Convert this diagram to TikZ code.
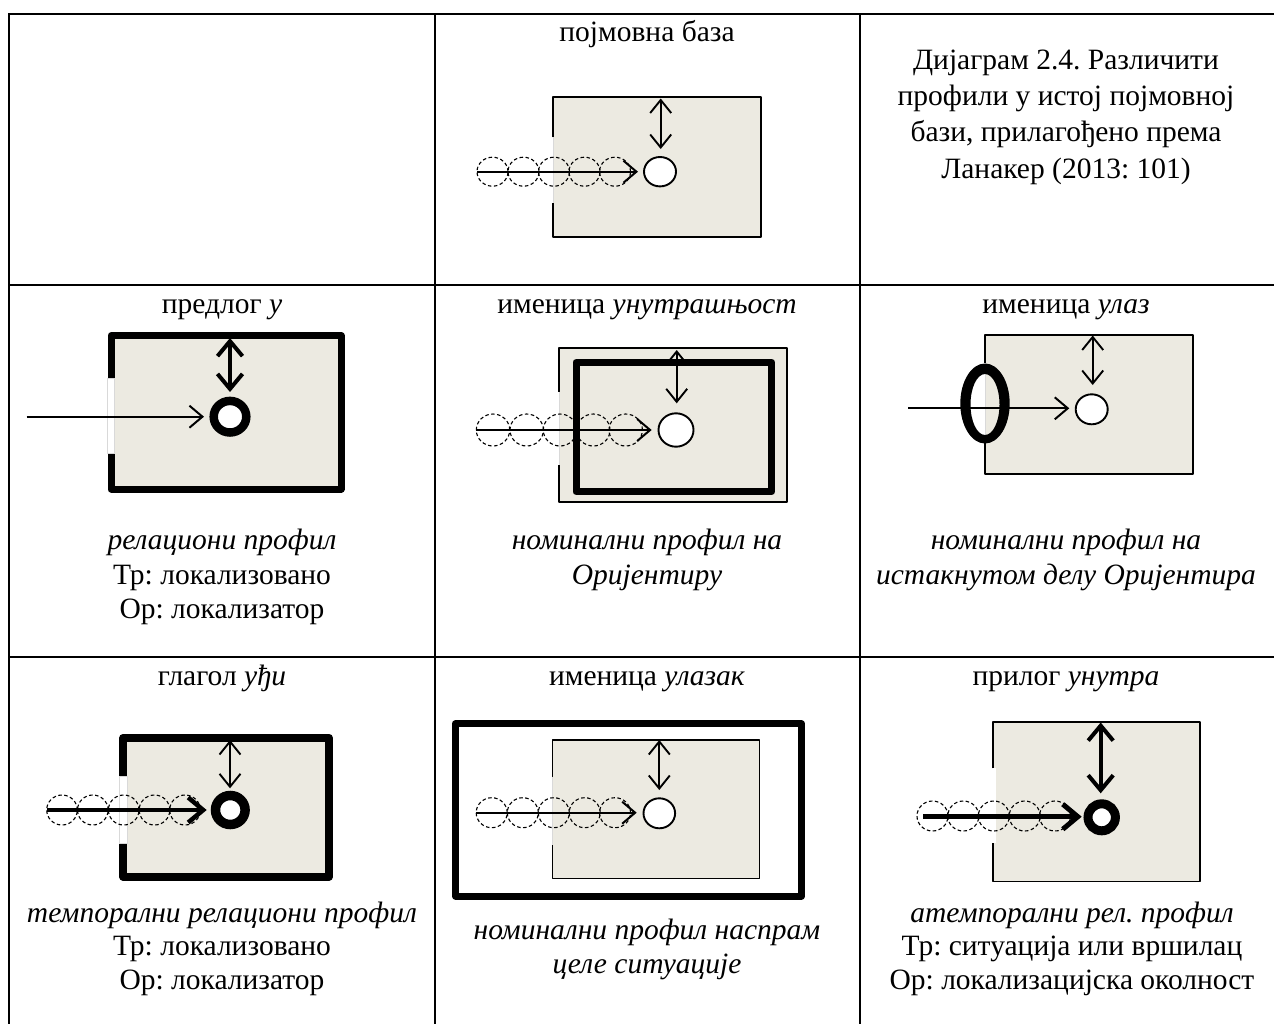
\documentclass[tikz,border=0pt]{standalone}
\usepackage{fontspec}
\setmainfont{Liberation Serif}
\usetikzlibrary{arrows.meta}
\definecolor{base}{RGB}{236,234,225}
\frenchspacing
\tikzset{
  tbl/.style={line width=2pt},
  ground/.style={fill=base},
  edgethin/.style={line width=1.9pt, line join=round},
  edgethick/.style={line width=7pt, line join=round},
  gapline/.style={draw=gray!30, line width=0.7pt},
  gapstrip/.style={fill=white, draw=gray!30, line width=0.6pt},
  pathdash/.style={dash pattern=on 3.5pt off 2.5pt, line width=1.1pt},
  mover/.style={line width=2pt, -{Straight Barb[length=13pt,width=22pt]}},
  moverbold/.style={line width=4.5pt, -{Straight Barb[length=15pt,width=25pt]}},
  reach/.style={line width=1.9pt, {Straight Barb[length=13pt,width=21pt]}-{Straight Barb[length=13pt,width=21pt]}},
  reachbold/.style={line width=4pt, {Straight Barb[length=15pt,width=25pt]}-{Straight Barb[length=15pt,width=25pt]}},
  tr/.style={draw, fill=white, line width=1.9pt},
  trbold/.style={draw, fill=white, line width=8.5pt},
  lbl/.style={font=\fontsize{29.5}{36}\selectfont\frenchspacing, anchor=base, inner sep=0pt},
}
\begin{document}
\begin{tikzpicture}[x=1pt,y=-1pt]
\useasboundingbox (0,0) rectangle (1274,1023);
\clip (0,0) rectangle (1274,1023);

% ---------- table rules ----------
\draw[tbl] (9,14) -- (1290,14);
\draw[tbl] (9,284.5) -- (1290,284.5);
\draw[tbl] (9,656.5) -- (1290,656.5);
\draw[tbl] (9,13) -- (9,1040);
\draw[tbl] (434.5,13) -- (434.5,1040);
\draw[tbl] (860,13) -- (860,1040);

% ---------- conceptual base ----------
\fill[ground] (553,97) rectangle (761,237);
\draw[edgethin] (553,137.3) -- (553,97) -- (761,97) -- (761,237) -- (553,237) -- (553,203.3);
\draw[gapline] (553,137.3) -- (553,203.3);
\foreach \cx in {492.5,523.5,554,584.5,615}
  \draw[pathdash] (\cx,171.7) ellipse [x radius=15.5pt, y radius=14.5pt];
\coordinate (a0) at (477,171.7);
\coordinate (a1) at (638,171.7);
\draw[mover] (a0) -- (a1);
\coordinate (b0) at (660.7,98.5);
\coordinate (b1) at (660.7,149);
\draw[reach] (b0) -- (b1);
\draw[tr] (660,171.7) ellipse [x radius=16pt, y radius=14.7pt];

% ---------- preposition ----------
\fill[ground] (111,335.5) rectangle (341,489);
\draw[edgethick] (111,378.3) -- (111,335.5) -- (341,335.5) -- (341,489) -- (111,489) -- (111,453.3);
\draw[gapstrip] (107.5,378.3) rectangle (114.5,453.3);
\coordinate (c0) at (26.7,416.7);
\coordinate (c1) at (204,416.7);
\draw[mover] (c0) -- (c1);
\coordinate (d0) at (230,338);
\coordinate (d1) at (230,392);
\draw[reachbold] (d0) -- (d1);
\draw[trbold] (230,416.7) ellipse [x radius=16.3pt, y radius=15.8pt];

% ---------- noun: interior ----------
\fill[ground] (559.3,348.3) rectangle (786.7,501.7);
\draw[edgethin] (559.3,391.7) -- (559.3,348.3) -- (786.7,348.3) -- (786.7,501.7) -- (559.3,501.7) -- (559.3,465);
\draw[gapline] (559.3,391.7) -- (559.3,465);
\draw[edgethick] (576,362.3) rectangle (771.7,491.7);
\foreach \cx in {493,526.7,560,593.3,625.7}
  \draw[pathdash] (\cx,430) ellipse [x radius=16.7pt, y radius=16pt];
\coordinate (e0) at (476,430);
\coordinate (e1) at (651.7,430);
\draw[mover] (e0) -- (e1);
\coordinate (f0) at (676.7,350);
\coordinate (f1) at (676.7,403.3);
\draw[reach] (f0) -- (f1);
\draw[tr] (676,430) ellipse [x radius=17.5pt, y radius=16.7pt];

% ---------- noun: entrance ----------
\fill[ground] (985,335) rectangle (1192.7,474);
\draw[edgethin] (985,363) -- (985,335) -- (1192.7,335) -- (1192.7,474) -- (985,474) -- (985,443);
\draw[gapline] (985,363) -- (985,443);
\coordinate (g0) at (908.3,408.3);
\coordinate (g1) at (1069.3,408.3);
\draw[mover] (g0) -- (g1);
\fill[even odd rule] (985,403.5) ellipse [x radius=24.7pt, y radius=40pt]
                     (985,404.5) ellipse [x radius=14.5pt, y radius=30.5pt];
\coordinate (h0) at (1092.7,335.5);
\coordinate (h1) at (1092.7,385);
\draw[reach] (h0) -- (h1);
\draw[tr] (1091.7,409.3) ellipse [x radius=16pt, y radius=15pt];

% ---------- verb ----------
\fill[ground] (123.3,737.8) rectangle (329,876.7);
\draw[edgethick, line width=8pt] (123.3,776) -- (123.3,737.8) -- (329,737.8) -- (329,876.7) -- (123.3,876.7) -- (123.3,843.3);
\draw[gapstrip] (119.3,776) rectangle (127.3,843.3);
\foreach \cx in {62,92.8,123.7,154.5,185}
  \draw[pathdash] (\cx,810) ellipse [x radius=15.3pt, y radius=15pt];
\coordinate (i0) at (46.7,810);
\coordinate (i1) at (206.7,810);
\draw[moverbold] (i0) -- (i1);
\coordinate (j0) at (230,740);
\coordinate (j1) at (230,788.3);
\draw[reach] (j0) -- (j1);
\draw[trbold, line width=9.5pt] (230.3,810) ellipse [x radius=14.8pt, y radius=14.5pt];

% ---------- noun: entering ----------
\draw[edgethick] (455.5,723.7) rectangle (801.5,896);
\fill[ground] (552.5,740) rectangle (759.5,878.5);
\draw[edgethin] (552.5,776.7) -- (552.5,740) -- (759.5,740) -- (759.5,878.5) -- (552.5,878.5) -- (552.5,845);
\draw[gapline] (552.5,776.7) -- (552.5,845);
\foreach \cx in {491.7,522.8,553.8,584.7,615}
  \draw[pathdash] (\cx,812.7) ellipse [x radius=15.5pt, y radius=15pt];
\coordinate (k0) at (476,812.7);
\coordinate (k1) at (636.7,812.7);
\draw[mover] (k0) -- (k1);
\coordinate (l0) at (659.3,740);
\coordinate (l1) at (659.3,790);
\draw[reach] (l0) -- (l1);
\draw[tr] (659.3,813.3) ellipse [x radius=15.8pt, y radius=15pt];

% ---------- adverb ----------
\fill[ground] (996,722.3) rectangle (1200,881.5);
\fill[ground] (993,722.3) rectangle (996,768.3);
\fill[ground] (993,843.3) rectangle (996,881.5);
\draw[edgethin] (993,768.3) -- (993,722.3) -- (1200,722.3) -- (1200,881.5) -- (993,881.5) -- (993,843.3);
\foreach \cx in {932.5,963.3,993.8,1024.7,1055}
  \draw[pathdash] (\cx,816) ellipse [x radius=15.5pt, y radius=15pt];
\coordinate (m0) at (923.3,816.7);
\coordinate (m1) at (1081.7,816.7);
\draw[moverbold, line width=5pt] (m0) -- (m1);
\coordinate (n0) at (1100.7,722.5);
\coordinate (n1) at (1100.7,793.3);
\draw[reachbold] (n0) -- (n1);
\draw[trbold, line width=9pt] (1101.7,817.3) ellipse [x radius=13.7pt, y radius=13.5pt];

% ---------- texts ----------
\node[lbl] (t0) at (647,41) {појмовна база};
\node[lbl] (t1) at (1066,69) {Дијаграм 2.4. Различити};
\node[lbl] (t2) at (1066,105.3) {профили у истој појмовној};
\node[lbl] (t3) at (1066,141.6) {бази, прилагођено према};
\node[lbl] (t4) at (1066,178) {Ланакер (2013: 101)};

\node[lbl] (r1) at (222,313) {предлог \textit{у}};
\node[lbl] (r2) at (647,313) {именица \textit{унутрашњост}};
\node[lbl] (r3) at (1066,313) {именица \textit{улаз}};

\node[lbl] (p1) at (222,549) {\textit{релациони профил}};
\node[lbl] (p2) at (222,584) {Тр: локализовано};
\node[lbl] (p3) at (222,618) {Ор: локализатор};
\node[lbl] (q1) at (647,549) {\textit{номинални профил на}};
\node[lbl] (q2) at (647,584) {\textit{Оријентиру}};
\node[lbl] (s1) at (1066,549) {\textit{номинални профил на}};
\node[lbl] (s2) at (1066,584) {\textit{истакнутом делу Оријентира}};

\node[lbl] (u1) at (222,685) {глагол \textit{уђи}};
\node[lbl] (u2) at (647,685) {именица \textit{улазак}};
\node[lbl] (u3) at (1066,685) {прилог \textit{унутра}};

\node[lbl] (v1) at (222,922) {\textit{темпорални релациони профил}};
\node[lbl] (v2) at (222,955) {Тр: локализовано};
\node[lbl] (v3) at (222,989) {Ор: локализатор};
\node[lbl] (w1) at (647,939) {\textit{номинални профил наспрам}};
\node[lbl] (w2) at (647,973) {\textit{целе ситуације}};
\node[lbl] (x1) at (1072,922) {\textit{атемпорални рел. профил}};
\node[lbl] (x2) at (1072,955) {Тр: ситуација или вршилац};
\node[lbl] (x3) at (1072,989) {Ор: локализацијска околност};
\end{tikzpicture}
\end{document}
